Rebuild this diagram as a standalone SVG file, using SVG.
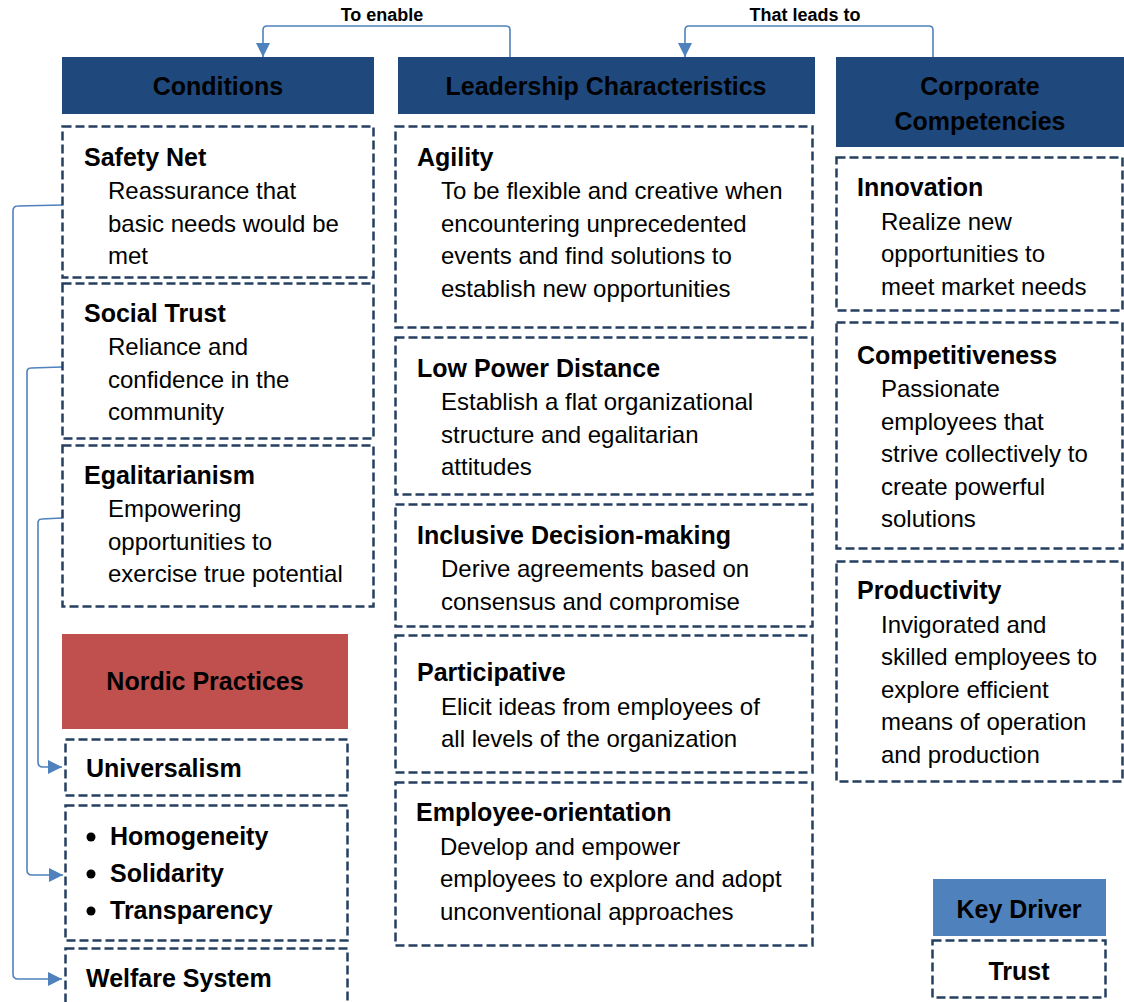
<svg xmlns="http://www.w3.org/2000/svg" width="1124" height="1002" viewBox="0 0 1124 1002">
<defs>
<style>
text{font-family:"Liberation Sans",Arial,sans-serif;fill:#000}
.h{font-weight:bold;font-size:25px}
.b{font-size:24px}
.lbl{font-weight:bold;font-size:18px}
.hdr{fill:#1F497D}
.box{fill:#fff;stroke:#243F60;stroke-width:2.5;stroke-dasharray:9 4}
.con{fill:none;stroke:#4F81BD;stroke-width:1.6}
</style>
<marker id="arr" viewBox="0 0 10 10" refX="10" refY="5" markerWidth="14" markerHeight="14" markerUnits="userSpaceOnUse" orient="auto">
<path d="M0,0 L10,5 L0,10 z" fill="#4F81BD"/>
</marker>
</defs>
<rect width="1124" height="1002" fill="#fff"/>

<g id="connectors">
<path class="con" d="M510,57 L510,30 Q510,26 506,26 L267,26 Q263,26 263,30 L263,57" marker-end="url(#arr)"/>
<path class="con" d="M933,57 L933,30 Q933,26 929,26 L689,26 Q685,26 685,30 L685,57" marker-end="url(#arr)"/>
<path class="con" d="M62,205 L18,206 Q13,206 13,211 L13,974 Q13,979 18,979 L62,979" marker-end="url(#arr)"/>
<path class="con" d="M62,367 L31,368 Q27,368 27,372 L27,870 Q27,875 32,875 L63,875" marker-end="url(#arr)"/>
<path class="con" d="M62,518 L42,519 Q38,519 38,523 L38,762 Q38,767 43,767 L62,767" marker-end="url(#arr)"/>
<text class="lbl" x="382" y="21" text-anchor="middle">To enable</text>
<text class="lbl" x="805" y="21" text-anchor="middle">That leads to</text>
</g>

<g id="hdr-conditions">
<rect class="hdr" x="62" y="57" width="312" height="57"/>
<text class="h" x="218" y="95" text-anchor="middle">Conditions</text>
</g>
<g id="hdr-leadership">
<rect class="hdr" x="398" y="57" width="417" height="57"/>
<text class="h" x="606" y="95" text-anchor="middle">Leadership Characteristics</text>
</g>
<g id="hdr-corporate">
<rect class="hdr" x="836" y="57" width="288" height="90"/>
<text class="h" x="980" y="95" text-anchor="middle">Corporate</text>
<text class="h" x="980" y="130" text-anchor="middle">Competencies</text>
</g>

<g id="safety-net">
<rect class="box" x="62.5" y="126.5" width="311" height="151"/>
<text class="h" x="84" y="166">Safety Net</text>
<text class="b" x="108" y="199">Reassurance that</text>
<text class="b" x="108" y="231.5">basic needs would be</text>
<text class="b" x="108" y="264">met</text>
</g>
<g id="social-trust">
<rect class="box" x="62.5" y="283.5" width="311" height="155"/>
<text class="h" x="84" y="322">Social Trust</text>
<text class="b" x="108" y="355">Reliance and</text>
<text class="b" x="108" y="387.5">confidence in the</text>
<text class="b" x="108" y="420">community</text>
</g>
<g id="egalitarianism">
<rect class="box" x="62.5" y="445.5" width="311" height="161"/>
<text class="h" x="84" y="484">Egalitarianism</text>
<text class="b" x="108" y="517">Empowering</text>
<text class="b" x="108" y="549.5">opportunities to</text>
<text class="b" x="108" y="582">exercise true potential</text>
</g>

<g id="nordic-practices">
<rect x="62" y="634" width="286" height="95" fill="#C0504D"/>
<text class="h" x="205" y="690" text-anchor="middle">Nordic Practices</text>
</g>
<g id="universalism">
<rect class="box" x="65.5" y="739.5" width="282" height="56"/>
<text class="h" x="86" y="777">Universalism</text>
</g>
<g id="values">
<rect class="box" x="65.5" y="805.5" width="282" height="135"/>
<circle cx="91" cy="837" r="4.5" fill="#000"/>
<circle cx="91" cy="874" r="4.5" fill="#000"/>
<circle cx="91" cy="911" r="4.5" fill="#000"/>
<text class="h" x="110" y="845">Homogeneity</text>
<text class="h" x="110" y="882">Solidarity</text>
<text class="h" x="110" y="919">Transparency</text>
</g>
<g id="welfare-system">
<rect class="box" x="65.5" y="948.5" width="282" height="70"/>
<text class="h" x="86" y="987">Welfare System</text>
</g>

<g id="agility">
<rect class="box" x="395.5" y="126.5" width="417" height="201"/>
<text class="h" x="417" y="166">Agility</text>
<text class="b" x="441" y="199">To be flexible and creative when</text>
<text class="b" x="441" y="231.5">encountering unprecedented</text>
<text class="b" x="441" y="264">events and find solutions to</text>
<text class="b" x="441" y="296.5">establish new opportunities</text>
</g>
<g id="low-power-distance">
<rect class="box" x="395.5" y="337.5" width="417" height="157"/>
<text class="h" x="417" y="377">Low Power Distance</text>
<text class="b" x="441" y="410">Establish a flat organizational</text>
<text class="b" x="441" y="442.5">structure and egalitarian</text>
<text class="b" x="441" y="475">attitudes</text>
</g>
<g id="inclusive-decision-making">
<rect class="box" x="395.5" y="504.5" width="417" height="122"/>
<text class="h" x="417" y="544">Inclusive Decision-making</text>
<text class="b" x="441" y="577">Derive agreements based on</text>
<text class="b" x="441" y="609.5">consensus and compromise</text>
</g>
<g id="participative">
<rect class="box" x="395.5" y="635.5" width="417" height="137"/>
<text class="h" x="417" y="681">Participative</text>
<text class="b" x="441" y="714.5">Elicit ideas from employees of</text>
<text class="b" x="441" y="747">all levels of the organization</text>
</g>
<g id="employee-orientation">
<rect class="box" x="395.5" y="782.5" width="417" height="163"/>
<text class="h" x="416" y="821">Employee-orientation</text>
<text class="b" x="440" y="854.5">Develop and empower</text>
<text class="b" x="440" y="887">employees to explore and adopt</text>
<text class="b" x="440" y="919.5">unconventional approaches</text>
</g>

<g id="innovation">
<rect class="box" x="836.5" y="157.5" width="286" height="153"/>
<text class="h" x="857" y="196">Innovation</text>
<text class="b" x="881" y="229.5">Realize new</text>
<text class="b" x="881" y="262">opportunities to</text>
<text class="b" x="881" y="294.5">meet market needs</text>
</g>
<g id="competitiveness">
<rect class="box" x="836.5" y="322.5" width="286" height="226"/>
<text class="h" x="857" y="364">Competitiveness</text>
<text class="b" x="881" y="397">Passionate</text>
<text class="b" x="881" y="429.5">employees that</text>
<text class="b" x="881" y="462">strive collectively to</text>
<text class="b" x="881" y="494.5">create powerful</text>
<text class="b" x="881" y="527">solutions</text>
</g>
<g id="productivity">
<rect class="box" x="836.5" y="561.5" width="286" height="220"/>
<text class="h" x="857" y="599">Productivity</text>
<text class="b" x="881" y="632.5">Invigorated and</text>
<text class="b" x="881" y="665">skilled employees to</text>
<text class="b" x="881" y="697.5">explore efficient</text>
<text class="b" x="881" y="730">means of operation</text>
<text class="b" x="881" y="762.5">and production</text>
</g>

<g id="key-driver">
<rect x="933" y="879" width="173" height="57" fill="#4F81BD"/>
<text class="h" x="1019" y="918" text-anchor="middle">Key Driver</text>
</g>
<g id="trust">
<rect class="box" x="932.5" y="940.5" width="173" height="57"/>
<text class="h" x="1019" y="980" text-anchor="middle">Trust</text>
</g>
</svg>
